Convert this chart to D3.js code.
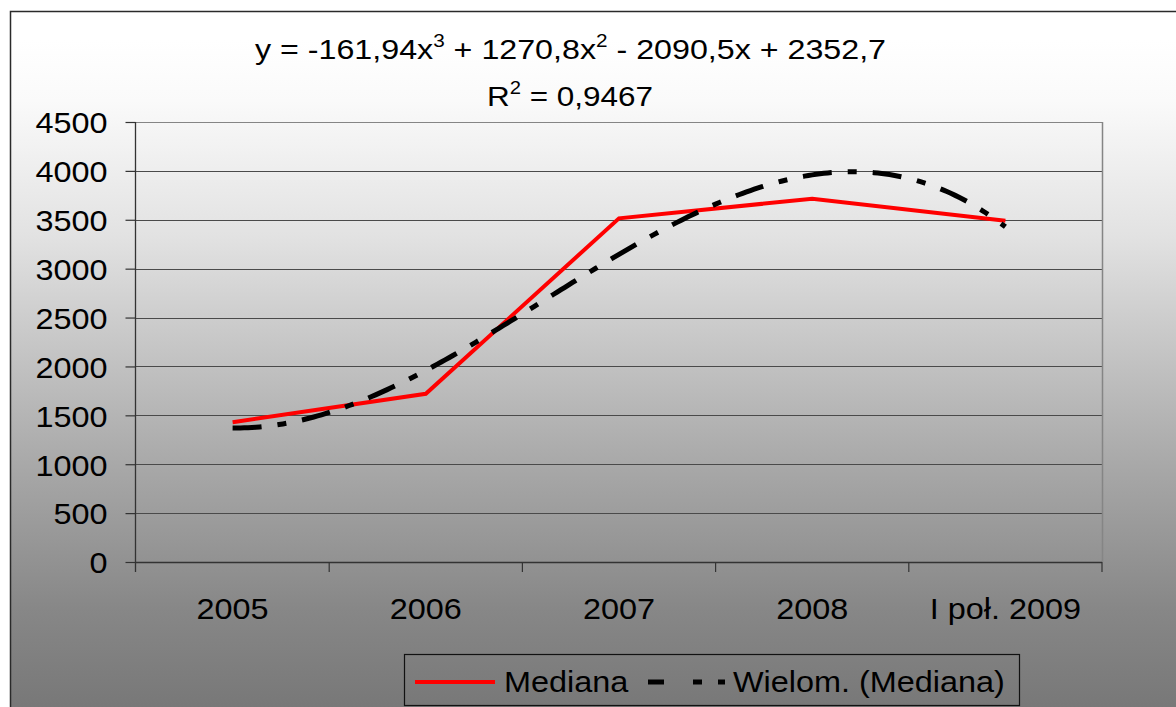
<!DOCTYPE html>
<html>
<head>
<meta charset="utf-8">
<script src="https://cdn.jsdelivr.net/npm/d3@7"></script>
<style>
  html, body { margin: 0; padding: 0; background: #ffffff; }
  svg { display: block; font-family: "Liberation Sans", Arial, sans-serif; }
</style>
</head>
<body>
<svg id="chart" width="1176" height="707"></svg>
<script>
// Categories (years) and the median series
const categories = ["2005", "2006", "2007", "2008", "I poł. 2009"];
const medianValues = [1430, 1720, 3515, 3715, 3490];

// Polynomial trendline coefficients (x^3, x^2, x, constant), x = 1..5
const trendCoefficients = [-161.94, 1270.8, -2090.5, 2352.7];
const trendLabel = ["-161,94", "1270,8", "2090,5", "2352,7"];
const rSquaredLabel = "0,9467";

// Value axis ticks
const yTicks = [0, 500, 1000, 1500, 2000, 2500, 3000, 3500, 4000, 4500];

const legendLabels = ["Mediana", "Wielom. (Mediana)"];

const svg = d3.select("#chart");
const plot = { left: 136, right: 1102, top: 122, bottom: 562 };
const sx = 1.08; // horizontal text stretch

// Background gradient (white to gray)
const defs = svg.append("defs");
const grad = defs.append("linearGradient")
  .attr("id", "bg").attr("x1", 0).attr("y1", 0).attr("x2", 0).attr("y2", 1);
[[0, "#ffffff"], [0.04, "#ffffff"], [0.124, "#fafafa"], [0.312, "#e2e2e2"],
 [0.453, "#c8c8c8"], [0.643, "#a6a6a6"], [0.83, "#878787"], [1, "#747474"]]
  .forEach(([o, c]) => grad.append("stop").attr("offset", o).attr("stop-color", c));

svg.append("rect")
  .attr("x", 10.5).attr("y", 11.5).attr("width", 1220).attr("height", 720)
  .attr("fill", "url(#bg)").attr("stroke", "#2a2a2a").attr("stroke-width", 1.5);

// Scales
const x = d3.scaleBand().domain(categories).range([plot.left, plot.right]);
const bw = x.bandwidth();
const y = d3.scaleLinear().domain([0, 4500]).range([plot.bottom, plot.top]);
const xTrend = d3.scaleLinear().domain([1, categories.length])
  .range([x(categories[0]) + bw / 2, x(categories[categories.length - 1]) + bw / 2]);

// Gridlines
svg.append("g").selectAll("line")
  .data(yTicks.filter(v => v > 0))
  .join("line")
  .attr("x1", plot.left).attr("x2", plot.right)
  .attr("y1", d => Math.round(y(d)) + 0.5).attr("y2", d => Math.round(y(d)) + 0.5)
  .attr("stroke", d => d === 4500 ? "#858585" : "#4a4a4a")
  .attr("stroke-width", 1.2);

// Plot area right border
svg.append("line")
  .attr("x1", plot.right + 0.5).attr("x2", plot.right + 0.5)
  .attr("y1", plot.top).attr("y2", plot.bottom)
  .attr("stroke", "#858585").attr("stroke-width", 1.5);

// Y axis
const yAxis = svg.append("g")
  .attr("transform", `translate(${plot.left - 0.5},0)`)
  .call(d3.axisLeft(y).tickValues(yTicks).tickFormat(d3.format("d"))
    .tickSize(10).tickSizeOuter(0).tickPadding(0));
yAxis.select(".domain").remove();
yAxis.selectAll(".tick line").attr("stroke", "#333").attr("stroke-width", 1.2);
yAxis.selectAll(".tick text")
  .attr("x", -28 / sx).attr("dy", "0.36em")
  .attr("transform", `scale(${sx},1)`)
  .attr("font-size", 30).attr("fill", "#000")
  .attr("font-family", "Liberation Sans, Arial, sans-serif");
svg.append("line")
  .attr("x1", plot.left - 0.5).attr("x2", plot.left - 0.5)
  .attr("y1", plot.top).attr("y2", plot.bottom + 10)
  .attr("stroke", "#333").attr("stroke-width", 1.3);

// X axis (labels at band centres, ticks at band boundaries)
const xAxis = svg.append("g")
  .attr("transform", `translate(0,${plot.bottom})`)
  .call(d3.axisBottom(x).tickSize(0).tickPadding(0));
xAxis.select(".domain").remove();
xAxis.selectAll(".tick text")
  .attr("y", 57).attr("dy", 0)
  .attr("transform", `scale(${sx},1)`)
  .attr("font-size", 30).attr("fill", "#000")
  .attr("font-family", "Liberation Sans, Arial, sans-serif");
svg.append("line")
  .attr("x1", plot.left).attr("x2", plot.right)
  .attr("y1", plot.bottom + 0.5).attr("y2", plot.bottom + 0.5)
  .attr("stroke", "#333").attr("stroke-width", 1.3);
const boundaries = categories.map(c => x(c)).concat([x.range()[1]]);
svg.append("g").selectAll("line")
  .data(boundaries.slice(1))
  .join("line")
  .attr("x1", d => d).attr("x2", d => d)
  .attr("y1", plot.bottom).attr("y2", plot.bottom + 10)
  .attr("stroke", "#333").attr("stroke-width", 1.2);

// Median series
const seriesData = categories.map((c, i) => ({ c, v: medianValues[i] }));
svg.append("path")
  .datum(seriesData)
  .attr("fill", "none").attr("stroke", "#ff0000").attr("stroke-width", 4)
  .attr("stroke-linejoin", "miter")
  .attr("d", d3.line().x(d => x(d.c) + bw / 2).y(d => y(d.v)));

// Polynomial trendline from the stated coefficients
const poly = t => trendCoefficients.reduce((acc, c) => acc * t + c, 0);
const trendPts = d3.range(1, categories.length + 0.0001, 0.02).map(t => [t, poly(t)]);
svg.append("path")
  .datum(trendPts)
  .attr("fill", "none").attr("stroke", "#000").attr("stroke-width", 5)
  .attr("stroke-dasharray", "29,16,9,16")
  .attr("d", d3.line().x(d => xTrend(d[0])).y(d => y(d[1])));

// Trendline equation label
const title = svg.append("g").attr("font-size", 28).attr("fill", "#000");
const l1 = title.append("text").attr("x", 255).attr("y", 59)
  .attr("textLength", 631).attr("lengthAdjust", "spacingAndGlyphs");
l1.append("tspan").text(`y = ${trendLabel[0]}x`);
l1.append("tspan").attr("dy", -12).attr("font-size", 18).text("3");
l1.append("tspan").attr("dy", 12).text(` + ${trendLabel[1]}x`);
l1.append("tspan").attr("dy", -12).attr("font-size", 18).text("2");
l1.append("tspan").attr("dy", 12).text(` - ${trendLabel[2]}x + ${trendLabel[3]}`);
const l2 = title.append("text").attr("x", 487).attr("y", 106)
  .attr("textLength", 166).attr("lengthAdjust", "spacingAndGlyphs");
l2.append("tspan").text("R");
l2.append("tspan").attr("dy", -12).attr("font-size", 18).text("2");
l2.append("tspan").attr("dy", 12).text(` = ${rSquaredLabel}`);

// Legend
const lg = svg.append("g");
lg.append("rect").attr("x", 404.5).attr("y", 654.5).attr("width", 615).attr("height", 51)
  .attr("fill", "none").attr("stroke", "#111").attr("stroke-width", 1.2);
lg.append("line").attr("x1", 415).attr("x2", 495).attr("y1", 682).attr("y2", 682)
  .attr("stroke", "#ff0000").attr("stroke-width", 4);
lg.append("text").attr("transform", `translate(504,692) scale(${sx},1)`)
  .attr("font-size", 30).attr("fill", "#000").text(legendLabels[0]);
lg.append("line").attr("x1", 648).attr("x2", 725).attr("y1", 682).attr("y2", 682)
  .attr("stroke", "#000").attr("stroke-width", 5)
  .attr("stroke-dasharray", "16,29,9,16,7,100");
lg.append("text").attr("transform", `translate(733,692) scale(${sx},1)`)
  .attr("font-size", 30).attr("fill", "#000").text(legendLabels[1]);
</script>
</body>
</html>
